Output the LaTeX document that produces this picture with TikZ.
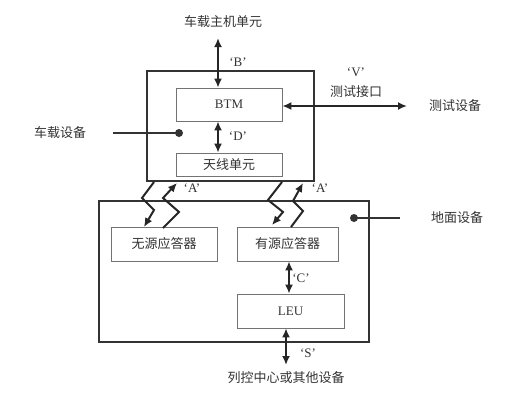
\documentclass[tikz,border=0pt]{standalone}
\usepackage{fontspec}
\setmainfont{Liberation Serif}
\newfontfamily\cjk{Noto Sans CJK SC}
\usetikzlibrary{arrows.meta}
\begin{document}
\begin{tikzpicture}[x=1pt,y=-1pt,
  outer/.style={draw=black!80, line width=1.4pt, inner sep=0pt},
  inner/.style={draw=black!55, line width=0.7pt, inner sep=0pt, font=\fontsize{13}{13}\selectfont, text=black!80},
  arr/.style={line width=2pt, draw=black!85, {Latex[length=9pt,width=8pt]}-{Latex[length=9pt,width=8pt]}},
  zig/.style={line width=2pt, draw=black!85, -{Latex[length=9pt,width=8pt]}, line join=miter},
  lbl/.style={font=\fontsize{13}{13}\selectfont, text=black!80, inner sep=0pt},
  pin/.style={line width=1.6pt, draw=black!80}]
\useasboundingbox (0,0) rectangle (508,400);
% boxes
\node[outer, minimum width=167pt, minimum height=110pt] (veh) at (230.5,126) {};
\node[inner, minimum width=106pt, minimum height=33pt] (btm) at (229,104.5) {BTM};
\node[inner, minimum width=106pt, minimum height=23pt] (ant) at (229,164.5) {\cjk 天线单元};
\node[outer, minimum width=270pt, minimum height=141pt] (gnd) at (234,271.5) {};
\node[inner, minimum width=106pt, minimum height=34pt] (pas) at (164,244) {\cjk 无源应答器};
\node[inner, minimum width=101pt, minimum height=34pt] (act) at (287.5,244) {\cjk 有源应答器};
\node[inner, minimum width=107pt, minimum height=34pt] (leu) at (290.5,311) {LEU};
% labels
\node[lbl] (host) at (223,22) {\cjk 车载主机单元};
\node[lbl] (lb) at (238,62) {‘B’};
\node[lbl] (ld) at (238,136) {‘D’};
\node[lbl] (lv) at (356,72) {‘V’};
\node[lbl] (ti) at (356,92) {\cjk 测试接口};
\node[lbl] (te) at (455,106) {\cjk 测试设备};
\node[lbl] (veq) at (60,133) {\cjk 车载设备};
\node[lbl] (geq) at (457,218) {\cjk 地面设备};
\node[lbl] (la1) at (192,188) {‘A’};
\node[lbl] (la2) at (320,188) {‘A’};
\node[lbl] (lc) at (301,278) {‘C’};
\node[lbl] (ls) at (308,353) {‘S’};
\node[lbl] (ctc) at (286,378) {\cjk 列控中心或其他设备};
% coordinates
\coordinate (bt) at (218,38);
\coordinate (vt) at (407,106);
\coordinate (st) at (286,365);
\coordinate (vdot) at (179,133);
\coordinate (vend) at (113,133);
\coordinate (gdot) at (354,218);
\coordinate (gend) at (400,218);
% arrows
\draw[arr] (bt) -- (btm.north -| bt);
\draw[arr] (btm.south -| bt) -- (ant.north -| bt);
\draw[arr] (btm.east |- vt) -- (vt);
\draw[arr] (act.south -| 289,0) -- (leu.north -| 289,0);
\draw[arr] (leu.south -| st) -- (st);
% pins
\draw[pin] (vend) -- (vdot);
\fill[black!80] (vdot) circle (4pt);
\draw[pin] (gend) -- (gdot);
\fill[black!80] (gdot) circle (4pt);
% zigzags
\coordinate (z1) at (154,182);
\coordinate (z1e) at (144,227);
\coordinate (z2) at (163,228);
\coordinate (z2e) at (177,183);
\coordinate (z3) at (282,182);
\coordinate (z3e) at (272,225);
\coordinate (z4) at (291,227);
\coordinate (z4e) at (303,183);
\draw[zig] (z1) -- (142,198) -- (154,210) -- (z1e);
\draw[zig] (z2) -- (179,212) -- (163,198) -- (z2e);
\draw[zig] (z3) -- (268,200) -- (283,212) -- (z3e);
\draw[zig] (z4) -- (303,211) -- (293,201) -- (z4e);
\end{tikzpicture}
\end{document}
